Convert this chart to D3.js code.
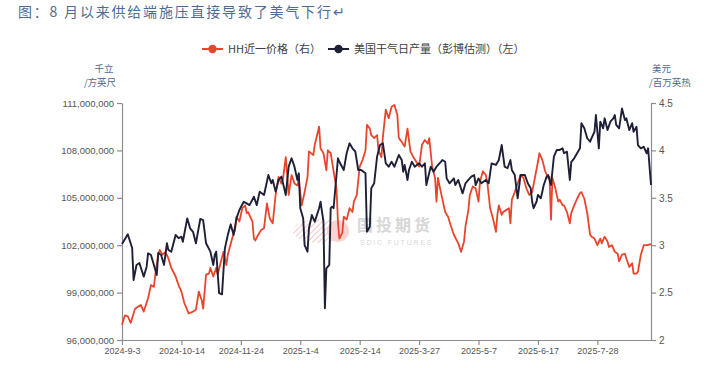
<!DOCTYPE html>
<html><head><meta charset="utf-8">
<script src="https://cdn.jsdelivr.net/npm/d3@7/dist/d3.min.js"></script>
<style>
html,body{margin:0;padding:0;background:#fff;}
svg{display:block;}
</style></head>
<body>
<svg id="chart" width="704" height="368"></svg>
<script>
// ---------- DATA ----------
const startDate = "2024-09-03";
const endDay = 365;
const xTickDays = [0, 41, 82, 123, 164, 205, 246, 287, 328];
const leftTicks = [96000000, 99000000, 102000000, 105000000, 108000000, 111000000];
const rightTicks = [2, 2.5, 3, 3.5, 4, 4.5];
const seriesNames = ["HH近一价格（右）", "美国干气日产量（彭博估测）（左）"];

// US dry gas daily production (Bloomberg est.), thousand cubic feet — days since start
const prodDays = [0,4,7,8,10,12,15,17,18,20,22,24,25,27,29,31,32,34,37,39,41,42,45,47,49,51,54,56,58,61,63,64,65,67,69,71,73,75,77,79,81,84,86,88,91,93,95,98,101,103,104,106,108,110,113,115,117,119,121,122,123,125,126,128,129,131,133,136,137,139,140,141,143,144,145,146,149,150,153,155,157,159,161,163,165,168,169,171,172,174,176,178,180,182,184,186,188,191,193,194,195,197,198,200,202,205,207,209,210,213,215,217,220,221,223,224,226,229,230,232,235,237,239,241,243,244,246,248,251,253,255,258,260,262,264,266,268,269,271,273,275,278,280,282,283,284,286,287,289,291,293,294,296,298,300,302,304,305,307,309,310,312,314,316,317,319,321,323,324,326,327,329,330,332,333,335,337,339,340,341,343,345,347,348,350,352,353,355,356,358,360,362,363,365];
const prodValues = [102.08,102.69,101.82,99.80,100.75,100.87,100.01,100.64,101.49,101.38,100.75,100.11,101.51,101.38,100.75,102.12,101.70,101.59,102.65,102.44,102.54,102.22,103.70,103.07,102.85,102.12,103.66,103.59,102.12,101.59,100.75,101.38,101.59,98.96,98.89,101.80,102.65,103.32,102.65,103.70,104.23,104.75,104.65,104.54,105.07,104.54,105.39,105.18,106.44,105.92,106.13,105.39,106.13,106.34,105.18,106.97,107.50,106.97,106.13,106.55,104.34,103.70,102.01,101.59,103.07,103.91,103.49,104.34,104.75,103.49,98.01,100.54,100.75,104.34,104.44,104.34,107.50,107.28,106.76,107.82,108.45,108.13,107.92,106.76,106.76,106.55,102.85,103.17,105.60,105.92,107.60,108.34,108.45,107.18,106.97,107.28,106.97,107.71,107.39,106.65,107.08,106.13,106.76,107.28,106.97,107.18,106.97,107.18,105.81,106.97,106.65,106.97,107.28,107.39,107.28,106.23,105.92,106.23,105.81,106.13,105.28,105.92,106.13,106.34,106.44,105.81,106.23,105.92,106.13,105.92,107.18,107.08,107.39,108.34,106.97,106.87,107.39,106.76,106.44,104.97,106.44,106.44,105.92,105.60,104.75,104.34,104.75,105.18,104.97,105.81,106.34,106.44,105.81,107.60,108.03,108.03,108.13,107.82,107.92,106.13,107.28,107.50,107.82,108.13,109.72,109.40,108.77,108.55,108.77,109.18,110.24,108.13,109.82,109.40,110.03,109.29,109.82,110.03,110.24,109.61,109.40,110.66,109.92,110.03,109.29,109.72,109.18,109.50,108.34,108.13,108.23,107.82,108.13,105.81].map(v => v * 1e6);

// Henry Hub front-month price, USD/MMBtu — days since start
const hhDays = [0,2,4,6,9,11,13,15,18,20,22,23,25,26,28,30,32,34,37,39,41,43,46,49,51,53,55,56,58,60,61,63,65,66,68,70,72,73,76,78,79,81,83,85,86,87,90,91,92,94,96,98,100,102,104,106,108,110,111,113,114,115,117,119,121,122,124,126,128,129,132,133,136,137,139,141,142,144,146,148,149,150,152,153,155,157,159,160,162,164,166,168,169,171,172,174,176,177,179,180,182,184,186,188,190,191,193,195,197,199,201,203,205,207,209,211,212,214,216,217,218,220,223,225,227,229,232,234,236,237,239,240,242,244,246,247,249,251,252,254,256,258,259,260,262,263,265,267,268,269,271,273,275,277,279,281,283,285,287,288,290,292,294,295,296,297,299,301,302,304,305,307,309,310,312,314,316,317,319,321,323,324,326,328,330,331,333,335,336,338,340,342,343,345,347,348,350,352,353,355,356,358,360,362,365];
const hhValues = [2.16,2.26,2.25,2.18,2.33,2.35,2.37,2.30,2.44,2.58,2.56,2.69,2.90,2.95,2.90,2.93,2.86,2.76,2.67,2.58,2.51,2.39,2.28,2.30,2.32,2.51,2.42,2.33,2.69,2.70,2.76,2.67,2.76,2.69,2.81,2.93,2.79,2.90,3.07,3.16,3.30,3.25,3.39,3.42,3.34,3.35,3.25,3.07,3.05,3.11,3.16,3.18,3.44,3.28,3.23,3.53,3.72,3.65,3.69,3.93,3.74,3.53,3.74,3.65,3.63,3.69,3.42,3.56,3.72,3.99,3.95,4.06,4.25,4.02,3.97,3.79,4.00,3.97,3.78,3.60,3.25,3.07,3.13,3.30,3.27,3.39,3.35,3.46,3.53,3.83,3.90,4.00,4.27,4.23,4.16,4.13,4.16,4.00,3.93,4.14,4.43,4.34,4.46,4.48,4.37,4.13,4.09,4.04,4.23,3.99,3.93,3.88,3.83,4.06,4.11,4.07,4.13,3.83,3.71,3.46,3.71,3.56,3.35,3.30,3.20,3.11,3.02,2.93,3.04,3.20,3.37,3.53,3.62,3.60,3.46,3.67,3.78,3.74,3.67,3.39,3.28,3.14,3.32,3.42,3.32,3.35,3.37,3.39,3.23,3.48,3.56,3.65,3.74,3.71,3.60,3.53,3.56,3.72,3.88,3.97,3.90,3.78,3.71,3.72,3.27,3.71,3.60,3.46,3.48,3.42,3.42,3.35,3.23,3.34,3.42,3.49,3.55,3.56,3.49,3.34,3.11,3.09,3.07,3.00,3.07,3.02,3.09,3.04,2.98,3.00,2.93,2.91,2.83,2.90,2.91,2.86,2.77,2.81,2.70,2.70,2.72,2.90,3.00,3.00,3.01];

// ---------- CHART ----------
const svg = d3.select("#chart");
const m = {left: 122, right: 651, top: 103, bottom: 340};
const t0 = new Date(startDate + "T00:00:00Z");
const dayDate = d => d3.utcDay.offset(t0, d);

const x = d3.scaleUtc().domain([t0, dayDate(endDay)]).range([m.left, m.right]);
const yL = d3.scaleLinear().domain([96000000, 111000000]).range([m.bottom, m.top]);
const yR = d3.scaleLinear().domain([2, 4.5]).range([m.bottom, m.top]);

const axisColor = "#8c8c8c";
const tickFont = "'Liberation Sans', Arial, sans-serif";
const cjk = "'Noto Sans CJK SC', sans-serif";

// Title
svg.append("text").attr("x", 18).attr("y", 17)
  .attr("font-family", cjk).attr("font-size", 14).attr("letter-spacing", 1.8)
  .attr("fill", "#4d6b93").text("图：8 月以来供给端施压直接导致了美气下行↵");

// Legend
const red = "#e8462c", dark = "#1d2036";
const lg = svg.append("g").attr("font-family", cjk).attr("font-size", 11).attr("fill", "#404040");
[[202, red, seriesNames[0]], [328, dark, seriesNames[1]]].forEach(([lx, c, name]) => {
  lg.append("line").attr("x1", lx).attr("x2", lx + 21).attr("y1", 49).attr("y2", 49)
    .attr("stroke", c).attr("stroke-width", 2);
  lg.append("circle").attr("cx", lx + 10.5).attr("cy", 49).attr("r", 4.2).attr("fill", c);
  lg.append("text").attr("x", lx + 26).attr("y", 53).text(name);
});

// Unit labels
const ul = svg.append("g").attr("font-family", cjk).attr("font-size", 9.5).attr("fill", "#4d6b93");
ul.append("text").attr("x", 104).attr("y", 72).attr("text-anchor", "middle").text("千立");
ul.append("text").attr("x", 100).attr("y", 86).attr("text-anchor", "middle").text("/方英尺");
ul.append("text").attr("x", 652).attr("y", 72).text("美元");
ul.append("text").attr("x", 649).attr("y", 86).text("/百万英热");

// Watermark
const defs = svg.append("defs");
const pat = defs.append("pattern").attr("id", "hatch").attr("patternUnits", "userSpaceOnUse")
  .attr("width", 4).attr("height", 4).attr("patternTransform", "rotate(45)");
pat.append("line").attr("x1", 0).attr("y1", 0).attr("x2", 0).attr("y2", 4)
  .attr("stroke", "#e06060").attr("stroke-width", 1.6);
const wm = svg.append("g").attr("opacity", 0.45);
wm.append("ellipse").attr("cx", 318).attr("cy", 231).attr("rx", 25).attr("ry", 12).attr("fill", "url(#hatch)");
wm.append("circle").attr("cx", 338).attr("cy", 231).attr("r", 11).attr("fill", "#f0a0a0");
wm.append("text").attr("x", 357).attr("y", 231).attr("font-family", cjk).attr("font-size", 16)
  .attr("font-weight", "bold").attr("fill", "#a8a8a8").attr("letter-spacing", 3).text("国投期货");
wm.append("text").attr("x", 360).attr("y", 245).attr("font-family", tickFont).attr("font-size", 7)
  .attr("fill", "#a8a8a8").attr("letter-spacing", 1.8).text("SDIC FUTURES");

// Axes
function styleAxis(g) {
  g.selectAll("path.domain").attr("stroke", axisColor).attr("stroke-width", 1.2);
  g.selectAll(".tick line").attr("stroke", axisColor).attr("stroke-width", 1.2);
  g.selectAll("text").attr("fill", "#555").attr("font-family", tickFont);
}
const fmtDate = d => `${d.getUTCFullYear()}-${d.getUTCMonth() + 1}-${d.getUTCDate()}`;
const gx = svg.append("g").attr("transform", `translate(0,${m.bottom})`)
  .call(d3.axisBottom(x).tickValues(xTickDays.map(dayDate)).tickFormat(fmtDate).tickSize(5).tickSizeOuter(0).tickPadding(3));
styleAxis(gx); gx.selectAll("text").attr("font-size", 9);

const gl = svg.append("g").attr("transform", `translate(${m.left},0)`)
  .call(d3.axisLeft(yL).tickValues(leftTicks).tickFormat(d3.format(",")).tickSize(5).tickSizeOuter(0).tickPadding(3));
styleAxis(gl); gl.selectAll("text").attr("font-size", 9.5);

const gr = svg.append("g").attr("transform", `translate(${m.right},0)`)
  .call(d3.axisRight(yR).tickValues(rightTicks).tickFormat(d => String(d)).tickSize(5).tickSizeOuter(0).tickPadding(3));
styleAxis(gr); gr.selectAll("text").attr("font-size", 10);

// Lines
const hhData = hhDays.map((d, i) => ({date: dayDate(d), v: hhValues[i]}));
const prodData = prodDays.map((d, i) => ({date: dayDate(d), v: prodValues[i]}));

svg.append("path").datum(hhData)
  .attr("fill", "none").attr("stroke", red).attr("stroke-width", 1.8).attr("stroke-linejoin", "round")
  .attr("d", d3.line().x(d => x(d.date)).y(d => yR(d.v)));
svg.append("path").datum(prodData)
  .attr("fill", "none").attr("stroke", dark).attr("stroke-width", 1.9).attr("stroke-linejoin", "round")
  .attr("d", d3.line().x(d => x(d.date)).y(d => yL(d.v)));
</script>
</body></html>
